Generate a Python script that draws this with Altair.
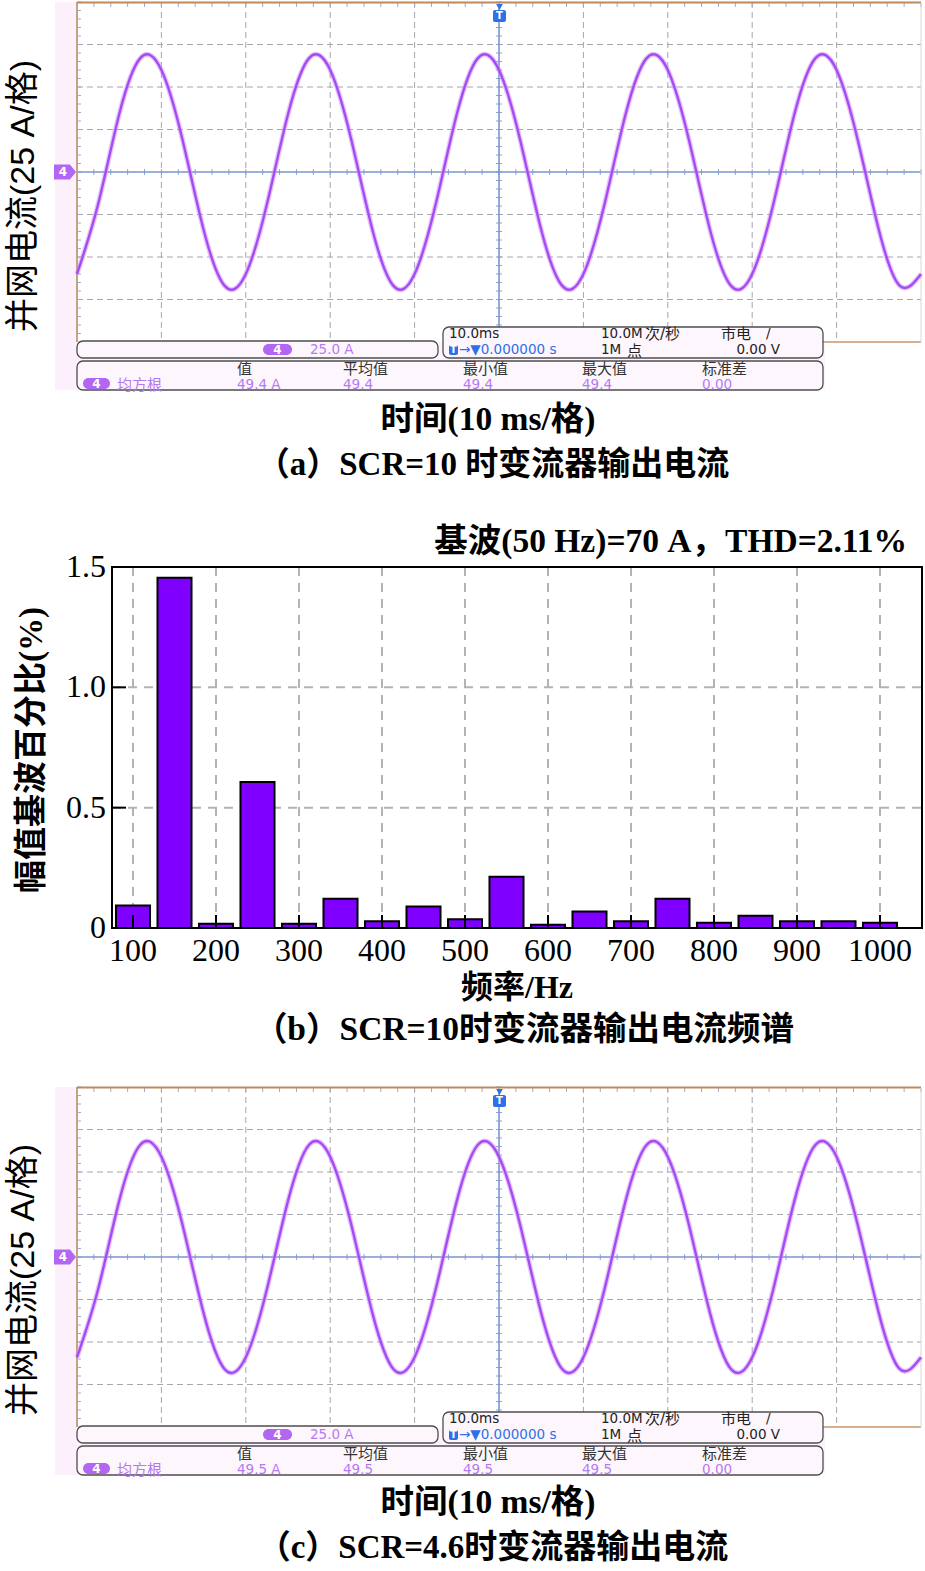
import altair as alt
import pandas as pd

# ---------------- data ----------------
TIME_MS = [0, 2.5, 5, 7.5, 10, 12.5, 15, 17.5, 20, 22.5, 25, 27.5, 30, 32.5, 35, 37.5,
           40, 42.5, 45, 47.5, 50, 52.5, 55, 57.5, 60, 62.5, 65, 67.5, 70, 72.5, 75, 77.5,
           80, 82.5, 85, 87.5, 90, 92.5, 95, 97.5, 100]
CUR_A = [-60, -19, 34, 67, 60, 19, -34, -67, -60, -19, 34, 67, 60, 19, -34, -67,
         -60, -19, 34, 67, 60, 19, -34, -67, -60, -19, 34, 67, 60, 19, -34, -67,
         -60, -19, 34, 67, 60, 19, -34, -67, -60]
CUR_C = [-59, -19, 33, 66, 59, 19, -33, -66, -59, -19, 33, 66, 59, 19, -33, -66,
         -59, -19, 33, 66, 59, 19, -33, -66, -59, -19, 33, 66, 59, 19, -33, -66,
         -59, -19, 33, 66, 59, 19, -33, -66, -59]

HARM_FREQ = [100, 150, 200, 250, 300, 350, 400, 450, 500, 550, 600, 650, 700, 750,
             800, 850, 900, 950, 1000]
HARM_PCT = [0.093, 1.455, 0.018, 0.607, 0.018, 0.122, 0.028, 0.089, 0.036, 0.213,
            0.014, 0.069, 0.028, 0.122, 0.022, 0.051, 0.028, 0.028, 0.022]

X_TICKS = [100, 200, 300, 400, 500, 600, 700, 800, 900, 1000]
Y_TICKS = [0, 0.5, 1.0, 1.5]
Y_TICK_LABELS = ["0", "0.5", "1.0", "1.5"]

MEAS_NAMES = ["值", "平均值", "最小值", "最大值", "标准差"]
MEAS_A = ["49.4 A", "49.4", "49.4", "49.4", "0.00"]
MEAS_C = ["49.5 A", "49.5", "49.5", "49.5", "0.00"]

TITLE_B = "基波(50 Hz)=70 A，THD=2.11%"
CAP_A = "（a）SCR=10 时变流器输出电流"
CAP_B = "（b）SCR=10时变流器输出电流频谱"
CAP_C = "（c）SCR=4.6时变流器输出电流"

# ---------------- styles / page geometry ----------------
PAGE_W, PAGE_H = 925, 1571
X_LO, X_HI = 0, PAGE_W
SERIF = "Liberation Serif, Noto Sans CJK SC"
SANS = "Liberation Sans, Noto Sans CJK SC"
SCOPE = "DejaVu Sans, Noto Sans CJK SC"
CJK = "Noto Sans CJK SC"
PURPLE_TXT = "#B57AF2"
PILL = "#B266F2"
BLUE = "#2F6FE8"
WAVE = "#A64BF4"


def _xy(xs, ys):
    return dict(x=alt.X("x:Q", scale=xs, axis=None), y=alt.Y("y:Q", scale=ys, axis=None))


def rects(rows, xs, ys, **mk):
    df = pd.DataFrame(rows, columns=["x", "x2", "y", "y2", "fill", "stroke"])
    return alt.Chart(df).mark_rect(clip=True, **mk).encode(
        x2="x2:Q", y2="y2:Q",
        fill=alt.Fill("fill:N", scale=None),
        stroke=alt.Stroke("stroke:N", scale=None), **_xy(xs, ys))


def rules(rows, xs, ys, **mk):
    df = pd.DataFrame(rows, columns=["x", "x2", "y", "y2", "c"])
    return alt.Chart(df).mark_rule(clip=True, **mk).encode(
        x2="x2:Q", y2="y2:Q", color=alt.Color("c:N", scale=None), **_xy(xs, ys))


def texts(rows, xs, ys, **mk):
    df = pd.DataFrame(rows, columns=["x", "y", "t", "c"])
    return alt.Chart(df).mark_text(baseline="middle", **mk).encode(
        text="t:N", color=alt.Color("c:N", scale=None), **_xy(xs, ys))


def scope_panel(center, top, bottom, cur, meas, caption, title_dy, dy_time, dy_cap):
    PXMS, PXA, X0 = 8.44, 1.7, 77.0
    xs = alt.Scale(domain=[(X_LO - X0) / PXMS, (X_HI - X0) / PXMS], nice=False, zero=False)
    ys = alt.Scale(domain=[(center - bottom) / PXA, (center - top) / PXA], nice=False, zero=False)

    def mx(px):
        return (px - X0) / PXMS

    def my(dy):
        return -dy / PXA

    L = []
    L.append(rects([
        (mx(55), mx(77), my(-170), my(218), "#FCF0FC", "transparent"),
        (mx(77), mx(825), my(170), my(218), "#FDF5FD", "transparent"),
    ], xs, ys))
    grid = []
    for m in [10, 20, 30, 40, 60, 70, 80, 90]:
        grid.append((m, m, 100, -100, "#A6A6AE"))
    for a in [75, 50, 25, -25, -50, -75]:
        grid.append((0, 100, a, a, "#A6A6AE"))
    L.append(rules(grid, xs, ys, strokeDash=[6, 4], strokeWidth=1))
    minor = []
    for k in range(51):
        m = 2 * k
        minor.append((m, m, my(-3), my(3), "#8FA5D6"))
        minor.append((m, m, my(-169), my(-165), "#9AAAD0"))
    for k in range(41):
        a = -100 + 5 * k
        minor.append((mx(496), mx(502), a, a, "#8FA5D6"))
        minor.append((mx(78), mx(81), a, a, "#9AAAD0"))
    L.append(rules(minor, xs, ys, strokeWidth=1))
    L.append(rules([(0, 100, 0, 0, "#7B95CF"), (50, 50, my(-166), -100, "#7B95CF")],
                   xs, ys, strokeWidth=1.6))
    L.append(rules([(0, 0, my(-170), -100, "#C4A484")], xs, ys, strokeWidth=2))
    L.append(rules([(0, 100, my(-169.5), my(-169.5), "#C0875A")], xs, ys, strokeWidth=2))
    L.append(rules([(mx(823), mx(921), -100, -100, "#C8946A")], xs, ys, strokeWidth=1.5))
    L.append(rules([(mx(921), mx(921), my(-169), -100, "#D8D8D8")], xs, ys, strokeWidth=1))

    wdf = pd.DataFrame({"x": TIME_MS, "y": cur})
    L.append(alt.Chart(wdf).mark_line(interpolate="natural", color="#CE95F8", clip=True,
                                      strokeWidth=5, opacity=0.55).encode(**_xy(xs, ys)))
    L.append(alt.Chart(wdf).mark_line(interpolate="natural", color=WAVE, clip=True,
                                      strokeWidth=2.4).encode(**_xy(xs, ys)))

    L.append(rects([
        (mx(77), mx(438), my(169), my(186), "#FDF6FD", "#4D4D4D"),
        (mx(443), mx(823), my(155), my(186), "#FDF6FD", "#4D4D4D"),
        (mx(77), mx(823), my(189), my(218), "#FDF6FD", "#4D4D4D"),
    ], xs, ys, cornerRadius=6, strokeWidth=1.3))
    L.append(rects([
        (mx(263), mx(292), my(172), my(183), PILL, "transparent"),
        (mx(83), mx(110), my(206), my(217), PILL, "transparent"),
    ], xs, ys, cornerRadius=6))
    L.append(rects([
        (mx(449), mx(458), my(173), my(183), BLUE, "transparent"),
        (mx(493), mx(506), my(-162), my(-150), BLUE, "transparent"),
    ], xs, ys, cornerRadius=2))

    mdf = pd.DataFrame({"x": [mx(65)], "y": [0]})
    L.append(alt.Chart(mdf).mark_point(
        shape="M-1,-0.68L0.45,-0.68L1,0L0.45,0.68L-1,0.68Z", size=484, clip=True,
        filled=True, fill=PILL, opacity=1, strokeWidth=0).encode(**_xy(xs, ys)))
    tdf = pd.DataFrame({"x": [mx(499.5)], "y": [my(-165)]})
    L.append(alt.Chart(tdf).mark_point(shape="triangle-down", size=45, filled=True, clip=True,
                                       fill=BLUE, opacity=1, strokeWidth=0).encode(**_xy(xs, ys)))

    L.append(texts([
        (mx(277.5), my(177.5), "4", "white"),
        (mx(96.5), my(211.5), "4", "white"),
        (mx(63), 0, "4", "white"),
    ], xs, ys, font=SCOPE, fontSize=12, fontWeight="bold", align="center"))
    L.append(texts([
        (mx(453.5), my(178), "T", "white"),
        (mx(499.5), my(-156), "T", "white"),
    ], xs, ys, font=SCOPE, fontSize=10, fontWeight="bold", align="center"))

    hx = [237, 343, 463, 582, 702]
    latin = [
        (mx(310), my(177.5), "25.0 A", PURPLE_TXT),
        (mx(449), my(162), "10.0ms", "#222222"),
        (mx(601), my(162), "10.0M", "#222222"),
        (mx(459), my(178), "→▼0.000000 s", BLUE),
        (mx(601), my(178), "1M", "#222222"),
        (mx(766), my(162), "/", "#222222"),
    ]
    cjk = [
        (mx(645), my(162), "次/秒", "#222222"),
        (mx(721), my(162), "市电", "#222222"),
        (mx(627), my(178.5), "点", "#222222"),
        (mx(117), my(212.5), "均方根", PURPLE_TXT),
    ]
    heads = []
    for px, name, val in zip(hx, MEAS_NAMES, meas):
        heads.append((mx(px), my(196.5), name, "#333333"))
        latin.append((mx(px), my(212.5), val, PURPLE_TXT))
    L.append(texts(latin, xs, ys, font=SCOPE, fontSize=13.5, align="left"))
    L.append(texts(cjk, xs, ys, font=SCOPE, fontSize=15, align="left"))
    L.append(texts(heads, xs, ys, font=CJK, fontSize=15, align="left"))
    L.append(texts([(mx(780), my(178), "0.00 V", "#222222")], xs, ys,
                   font=SCOPE, fontSize=13.5, align="right"))

    L.append(texts([(mx(24), my(title_dy), "并网电流(25 A/格)", "black")], xs, ys,
                   font=SANS, fontSize=34, angle=270, align="center"))
    L.append(texts([(mx(488), my(dy_time), "时间(10 ms/格)", "black")], xs, ys,
                   font=SERIF, fontSize=33.5, fontWeight="bold", align="center"))
    L.append(texts([(mx(493), my(dy_cap), caption, "black")], xs, ys,
                   font=SERIF, fontSize=33, fontWeight="bold", align="center"))

    return alt.layer(*L).properties(width=X_HI - X_LO, height=bottom - top)


def spectrum_panel(top, bottom):
    PXV = (928 - 567) / 1.5
    PXH = (880 - 133) / 900.0

    def hz(px):
        return 100 + (px - 133) / PXH

    def val(py):
        return (928 - py) / PXV

    xs = alt.Scale(domain=[hz(X_LO), hz(X_HI)], nice=False, zero=False)
    ys = alt.Scale(domain=[val(bottom), val(top)], nice=False, zero=False)

    xl, xr = hz(112), hz(922)
    L = []
    grid = [(f, f, 0, 1.5, "#B3B3B3") for f in X_TICKS]
    grid += [(xl, xr, v, v, "#B3B3B3") for v in [0.5, 1.0]]
    L.append(rules(grid, xs, ys, strokeDash=[9, 7], strokeWidth=2))

    half = 20.5
    bdf = pd.DataFrame({"f": HARM_FREQ, "v": HARM_PCT})
    L.append(alt.Chart(bdf).transform_calculate(
        x0=f"datum.f - {half}", x1=f"datum.f + {half}"
    ).mark_rect(fill="#7F00FF", stroke="black", strokeWidth=2, clip=True).encode(
        x=alt.X("x0:Q", scale=xs, axis=None), x2="x1:Q",
        y=alt.Y("v:Q", scale=ys, axis=None), y2=alt.datum(0)))

    ticks = [(f, f, 0, 13 / PXV, "black") for f in X_TICKS]
    ticks += [(xl, xl + 14 / PXH, v, v, "black") for v in [0.5, 1.0]]
    L.append(rules(ticks, xs, ys, strokeWidth=2))

    L.append(rects([(xl, xr, 0, 1.5, "transparent", "black")], xs, ys, strokeWidth=2))

    L.append(texts([(hz(106), v, lab, "black") for v, lab in zip(Y_TICKS, Y_TICK_LABELS)],
                   xs, ys, font=SERIF, fontSize=32, align="right"))
    L.append(texts([(f, val(951), str(f), "black") for f in X_TICKS],
                   xs, ys, font=SERIF, fontSize=32, align="center"))
    L.append(texts([(hz(517), val(988), "频率/Hz", "black")], xs, ys,
                   font=SERIF, fontSize=32, fontWeight="bold", align="center"))
    L.append(texts([(hz(524), val(1030), CAP_B, "black")], xs, ys,
                   font=SERIF, fontSize=33.5, fontWeight="bold", align="center"))
    L.append(texts([(hz(32), val(750), "幅值基波百分比(%)", "black")], xs, ys,
                   font=SERIF, fontSize=33, fontWeight="bold", angle=270, align="center"))
    L.append(texts([(hz(907), val(542), TITLE_B, "black")], xs, ys,
                   font=SERIF, fontSize=33.5, fontWeight="bold", align="right"))
    return alt.layer(*L).properties(width=X_HI - X_LO, height=bottom - top)


panel_a = scope_panel(172, 0, 490, CUR_A, MEAS_A, CAP_A, 24, 248, 293)
panel_b = spectrum_panel(490, 1060)
panel_c = scope_panel(1257, 1060, PAGE_H, CUR_C, MEAS_C, CAP_C, 23, 246, 291)

chart = alt.vconcat(panel_a, panel_b, panel_c, spacing=0).properties(
    padding=0, background="white"
).configure_view(stroke=None)

chart.save("out.html", embed_options={"renderer": "svg", "actions": False})
